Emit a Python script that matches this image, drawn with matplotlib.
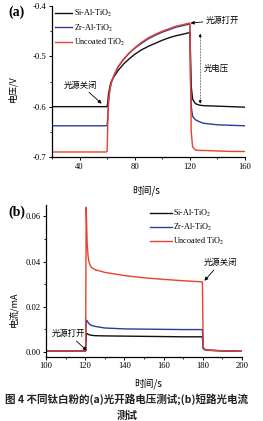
import matplotlib
matplotlib.use("Agg")
import matplotlib.pyplot as plt
from matplotlib.ticker import MultipleLocator

plt.rcParams['font.family'] = ['Liberation Serif', 'Noto Sans CJK SC', 'DejaVu Sans']
plt.rcParams['mathtext.fontset'] = 'stix'

CJK = ['Noto Sans CJK SC', 'DejaVu Sans']

series_names = ['Si-Al-TiO$_2$', 'Zr-Al-TiO$_2$', 'Uncoated TiO$_2$']
colors = ['#111111', '#2b3c9c', '#e8412e']

# ---- panel (a): open-circuit photovoltage ----
t_a = [20, 59.5, 60, 60.5, 61, 62, 63, 65, 68, 72, 76, 80, 85, 90, 95, 100, 105, 110, 115,
       119.5, 120, 120.5, 121, 122, 124, 127, 130, 140, 150, 160]
v_si = [-0.600, -0.600, -0.600, -0.590, -0.575, -0.560, -0.550, -0.540, -0.528, -0.515, -0.505,
        -0.496, -0.487, -0.480, -0.474, -0.468, -0.463, -0.459, -0.456,
        -0.453, -0.453, -0.500, -0.560, -0.585, -0.594, -0.597, -0.598, -0.599, -0.600, -0.601]
v_zr = [-0.638, -0.638, -0.636, -0.620, -0.590, -0.566, -0.553, -0.538, -0.521, -0.506, -0.494,
        -0.484, -0.474, -0.465, -0.458, -0.452, -0.447, -0.442, -0.439,
        -0.436, -0.436, -0.550, -0.600, -0.619, -0.626, -0.630, -0.633, -0.636, -0.637, -0.638]
v_un = [-0.690, -0.690, -0.688, -0.630, -0.590, -0.565, -0.552, -0.537, -0.520, -0.505, -0.493,
        -0.483, -0.472, -0.463, -0.456, -0.450, -0.445, -0.440, -0.437,
        -0.434, -0.434, -0.550, -0.650, -0.680, -0.686, -0.687, -0.687, -0.688, -0.689, -0.689]

# ---- panel (b): short-circuit photocurrent ----
t_b = [100, 119.8, 120.2, 120.5, 121, 121.5, 122, 123, 125, 130, 140, 150, 160, 170, 179.8,
       180.2, 181, 183, 190, 200]
i_si = [0.0004, 0.0004, 0.0006, 0.0080, 0.0081, 0.0078, 0.0076, 0.0074, 0.0072, 0.0071, 0.0070,
        0.0069, 0.0068, 0.0067, 0.0067, 0.0015, 0.0010, 0.0007, 0.0005, 0.0003]
i_zr = [0.0004, 0.0004, 0.0006, 0.0140, 0.0138, 0.0130, 0.0124, 0.0118, 0.0113, 0.0106, 0.0102,
        0.0101, 0.0100, 0.0099, 0.0099, 0.0018, 0.0011, 0.0008, 0.0005, 0.0003]
i_un = [0.0004, 0.0004, 0.0006, 0.0640, 0.0480, 0.0420, 0.0395, 0.0375, 0.0364, 0.0352, 0.0338,
        0.0328, 0.0321, 0.0315, 0.0310, 0.0020, 0.0012, 0.0008, 0.0005, 0.0003]

W, H = 263, 421
fig = plt.figure(figsize=(W / 100, H / 100), dpi=100)

fs_tick = 6.2
fs_leg = 5.9
fs_xlab = 7
fs_ylab = 6.5
fs_ann = 6


def style(ax):
    ax.spines['top'].set_visible(False)
    ax.spines['right'].set_visible(False)
    for s in ('left', 'bottom'):
        ax.spines[s].set_linewidth(0.9)
    ax.tick_params(which='major', direction='out', length=2.5, width=0.7, labelsize=fs_tick, pad=1.5)
    ax.tick_params(which='minor', direction='out', length=1.5, width=0.6)


arrow = dict(arrowstyle='-|>', lw=0.6, color='k', mutation_scale=5, shrinkA=0, shrinkB=0)

# Panel (a)
ax1 = fig.add_axes([52 / W, 1 - 157 / H, 193 / W, 151 / H])
for y, c, n in zip([v_si, v_zr, v_un], colors, series_names):
    ax1.plot(t_a, y, color=c, lw=1.0, label=n)
ax1.set_xlim(20, 160)
ax1.set_ylim(-0.7, -0.4)
ax1.xaxis.set_major_locator(MultipleLocator(40))
ax1.xaxis.set_minor_locator(MultipleLocator(20))
ax1.set_yticks([-0.7, -0.6, -0.5, -0.4])
ax1.set_yticklabels(['-0.7', '-0.6', '-0.5', '-0.4'])
ax1.yaxis.set_minor_locator(MultipleLocator(0.05))
style(ax1)
ax1.set_xlabel('时间/s', family=CJK, fontsize=fs_xlab)
ax1.set_ylabel('电压/V', family=CJK, fontsize=fs_ylab)
ax1.xaxis.set_label_coords(0.49, -0.185)
ax1.yaxis.set_label_coords(-0.181, 0.45)
ax1.legend(loc='upper left', bbox_to_anchor=(55 / W, 1 - 8 / H), bbox_transform=fig.transFigure,
           frameon=False, fontsize=fs_leg, borderpad=0, borderaxespad=0,
           handlelength=2.1, handletextpad=0.25, labelspacing=0.38)
ax1.annotate('光源关闭', xy=(56, -0.594), xytext=(41, -0.557), family=CJK, fontsize=fs_ann,
             ha='center', va='center', arrowprops=arrow)
ax1.annotate('光源打开', xy=(120.5, -0.434), xytext=(131.5, -0.428), family=CJK, fontsize=fs_ann,
             ha='left', va='center', arrowprops=arrow)
ax1.plot([127.5, 127.5], [-0.458, -0.590], color='k', lw=0.5, ls=(0, (1, 1.2)))
ax1.annotate('', xy=(127.5, -0.455), xytext=(127.5, -0.462),
             arrowprops=dict(arrowstyle='-|>', lw=0.5, color='k', mutation_scale=4, shrinkA=0, shrinkB=0))
ax1.annotate('', xy=(127.5, -0.594), xytext=(127.5, -0.587),
             arrowprops=dict(arrowstyle='-|>', lw=0.5, color='k', mutation_scale=4, shrinkA=0, shrinkB=0))
ax1.text(130, -0.523, '光电压', family=CJK, fontsize=fs_ann, ha='left', va='center')
fig.text(8 / W, 1 - 12 / H, '(a)', fontsize=10, fontweight='bold', ha='left', va='center',
         family=['Liberation Serif'])

# Panel (b)
ax2 = fig.add_axes([46 / W, 1 - 356.7 / H, 196 / W, 151.7 / H])
for y, c, n in zip([i_si, i_zr, i_un], colors, series_names):
    ax2.plot(t_b, y, color=c, lw=1.0, label=n)
ax2.set_xlim(100, 200)
ax2.set_ylim(-0.0021, 0.065)
ax2.xaxis.set_major_locator(MultipleLocator(20))
ax2.xaxis.set_minor_locator(MultipleLocator(10))
ax2.yaxis.set_major_locator(MultipleLocator(0.02))
ax2.yaxis.set_minor_locator(MultipleLocator(0.01))
ax2.yaxis.set_major_formatter(plt.FormatStrFormatter('%.2f'))
style(ax2)
ax2.set_xlabel('时间/s', family=CJK, fontsize=fs_xlab)
ax2.set_ylabel('电流/mA', family=CJK, fontsize=fs_ylab)
ax2.xaxis.set_label_coords(0.52, -0.14)
ax2.yaxis.set_label_coords(-0.143, 0.31)
ax2.legend(loc='upper left', bbox_to_anchor=(150 / W, 1 - 208 / H), bbox_transform=fig.transFigure,
           frameon=False, fontsize=fs_leg, borderpad=0, borderaxespad=0,
           handlelength=2.7, handletextpad=0.15, labelspacing=0.32)
ax2.annotate('光源打开', xy=(120.8, 0.0006), xytext=(103, 0.008), family=CJK, fontsize=fs_ann,
             ha='left', va='center', arrowprops=arrow)
ax2.annotate('光源关闭', xy=(180.8, 0.0315), xytext=(180.5, 0.0395), family=CJK, fontsize=fs_ann,
             ha='left', va='center', arrowprops=arrow)
fig.text(8 / W, 1 - 212 / H, '(b)', fontsize=10, fontweight='bold', ha='left', va='center',
         family=['Liberation Serif'])

# Caption
fig.text(126.5 / W, 1 - 399 / H, '图 4 不同钛白粉的(a)光开路电压测试;(b)短路光电流', family=CJK,
         fontsize=7.6, ha='center', va='center', fontweight='bold', color='#222222')
fig.text(127 / W, 1 - 416 / H, '测试', family=CJK, fontsize=7.6, ha='center', va='center',
         fontweight='bold', color='#222222')

fig.savefig('out.png', dpi=100)
